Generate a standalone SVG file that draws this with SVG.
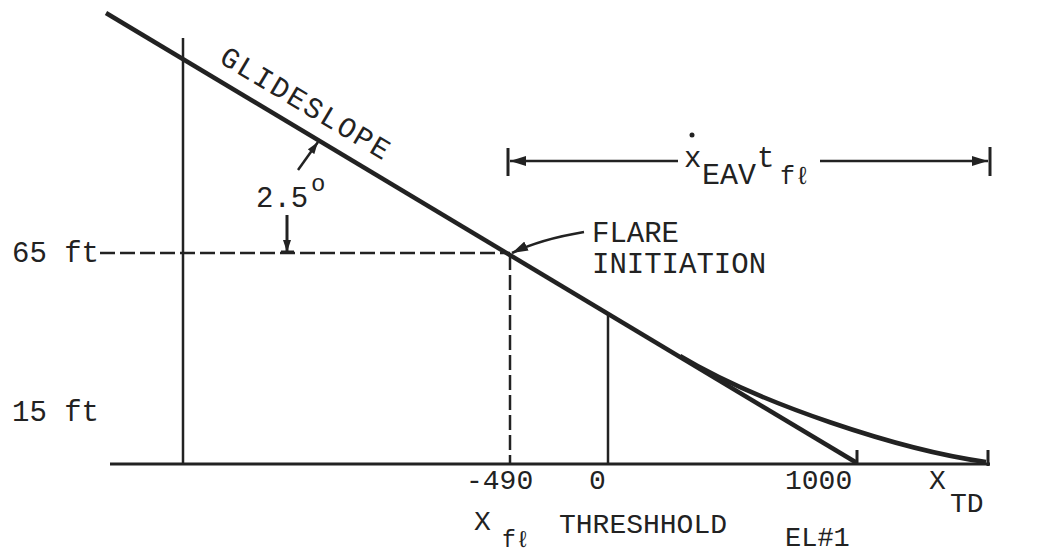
<svg xmlns="http://www.w3.org/2000/svg" width="1051" height="554" viewBox="0 0 1051 554">
<style>
text{font-family:"Liberation Mono","DejaVu Sans Mono",monospace;fill:#222;}
.big{font-size:29px;}
.sub{font-size:28px;}
.ln{stroke:#222;fill:none;stroke-linecap:butt;}
.dash{stroke:#222;stroke-width:2.5;stroke-dasharray:15 5;fill:none;}
</style>
<defs>
<marker id="ah" viewBox="0 0 12 8" refX="12" refY="4" markerWidth="12" markerHeight="8" markerUnits="userSpaceOnUse" orient="auto">
<path d="M0,0 L12,4 L0,8 Z" fill="#222"/>
</marker>
<marker id="ahb" viewBox="0 0 16 10" refX="16" refY="5" markerWidth="16" markerHeight="10" markerUnits="userSpaceOnUse" orient="auto">
<path d="M0,0 L16,5 L0,10 Z" fill="#222"/>
</marker>
</defs>
<rect width="1051" height="554" fill="#fff"/>

<g id="ground">
<line class="ln" x1="110" y1="464" x2="990" y2="464" stroke-width="3"/>
<line class="ln" x1="183" y1="38" x2="183" y2="464" stroke-width="2.5"/>
<line class="ln" x1="608" y1="314" x2="608" y2="464" stroke-width="2.5"/>
<line class="ln" x1="857" y1="450" x2="857" y2="464" stroke-width="3"/>
<line class="ln" x1="988" y1="450" x2="988" y2="466" stroke-width="3"/>
</g>

<g id="glideslope">
<line class="ln" x1="106" y1="13" x2="857" y2="463" stroke-width="4.5"/>
<text class="big" letter-spacing="2" transform="translate(218,62) rotate(30.8)">GLIDESLOPE</text>
</g>

<g id="flare-curve">
<path class="ln" d="M680,356 C760,404 900,450 986,462" stroke-width="4.5"/>
</g>

<g id="reference-lines">
<line class="dash" x1="100" y1="253" x2="510" y2="253"/>
<line class="dash" x1="510" y1="255" x2="510" y2="464"/>
</g>

<g id="connectors">
<line class="ln" x1="298" y1="170" x2="318" y2="142" stroke-width="2.5" marker-end="url(#ah)"/>
<line class="ln" x1="287" y1="215" x2="287" y2="252" stroke-width="3" marker-end="url(#ah)"/>
<line class="ln" x1="281" y1="252" x2="294" y2="252" stroke-width="3"/>
<path class="ln" d="M584,232 C560,236 535,242 512,253" stroke-width="2.5" marker-end="url(#ahb)"/>
<line class="ln" x1="678" y1="161" x2="510" y2="161" stroke-width="2.5" marker-end="url(#ahb)"/>
<line class="ln" x1="820" y1="161" x2="988" y2="161" stroke-width="2.5" marker-end="url(#ahb)"/>
<line class="ln" x1="508" y1="148" x2="508" y2="176" stroke-width="3"/>
<line class="ln" x1="990" y1="147" x2="990" y2="176" stroke-width="3"/>
</g>

<g id="angle-label">
<text class="big" x="256" y="207">2.5</text>
<text x="311" y="191" font-size="24">o</text>
</g>

<g id="dimension-label">
<circle cx="692" cy="135" r="2.5" fill="#222"/>
<text class="big" x="684" y="167">x</text>
<text x="702" y="184" font-size="30">EAV</text>
<text class="big" x="757" y="167">t</text>
<text x="780" y="184" font-size="25">fℓ</text>
</g>

<g id="flare-label">
<text class="big" x="592" y="242">FLARE</text>
<text class="big" x="592" y="273">INITIATION</text>
</g>

<g id="y-labels">
<text class="big" x="12" y="262">65 ft</text>
<text class="big" x="12" y="421">15 ft</text>
</g>

<g id="x-labels">
<text class="sub" x="466" y="489">-490</text>
<text class="sub" x="474" y="530">X</text>
<text x="502" y="547" font-size="23">fℓ</text>
<text class="sub" x="589" y="489">0</text>
<text class="sub" x="559" y="533">THRESHHOLD</text>
<text class="sub" x="785" y="489">1000</text>
<text x="785" y="546" font-size="27">EL#1</text>
<text class="sub" x="929" y="489">X</text>
<text class="sub" x="950" y="512">TD</text>
</g>
</svg>
